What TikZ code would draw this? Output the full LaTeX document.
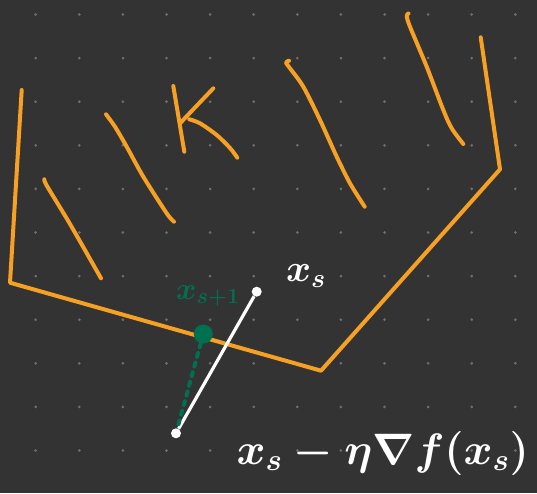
\RequirePackage{fix-cm}
\documentclass[tikz,border=0pt]{standalone}
\definecolor{board}{RGB}{51,51,51}
\definecolor{griddot}{RGB}{110,110,110}
\definecolor{marker}{RGB}{246,160,36}
\definecolor{ink}{RGB}{0,112,80}
\begin{document}
\begin{tikzpicture}[x=1pt,y=-1pt,
  level/.style={draw=marker,line width=4pt,line cap=round,line join=round},
  wdot/.style={circle,fill=white,inner sep=0pt,minimum size=10pt},
  gdot/.style={circle,fill=ink,inner sep=0pt,minimum size=19pt}]
\useasboundingbox (0,0) rectangle (537,493);
\fill[board] (0,0) rectangle (537,493);
\foreach \i in {0,...,11}
  \foreach \j in {0,...,10}
    \fill[griddot] (35.7+43.6*\i,14.5+43.6*\j) circle (1.5pt);
% level set of f
\draw[level] (21.7,90) -- (10,282.7) -- (321,370.7) -- (500,169.3) -- (480.7,37.3);
\draw[level] plot[smooth] coordinates {(44.3,179.3) (47,186) (70,224) (101,278.3)};
\draw[level] plot[smooth] coordinates {(106,114.3) (115,126.7) (126.7,146.7) (143.3,176.7) (166.7,213.3) (174,221.7)};
\draw[level] plot[smooth] coordinates {(289,60.7) (286,62.5) (289,67) (303.3,86.7) (320,120) (336.7,156.7) (350,183.3) (364.7,206.7)};
\draw[level] plot[smooth] coordinates {(408.5,13.5) (406.7,16) (410,26.7) (426.7,66.7) (443.3,110) (451.7,128.3) (463.3,144)};
% K
\draw[level] (173.3,86) -- (184.3,151.7);
\draw[level] (213.3,88.3) -- (180,123.3);
\draw[level] plot[smooth] coordinates {(189.3,119.3) (200,123.3) (216.7,135) (230,148) (237.3,157.7)};
% gradient step
\node[wdot] (xs) at (256.7,291.7) {};
\node[wdot] (xn) at (176,433.3) {};
\node[gdot] (xp) at (203.3,334) {};
\draw[white,line width=3.2pt] (xs) -- (xn);
\draw[ink,line width=4pt,line cap=round,dash pattern=on 4pt off 6pt] (xp) -- (xn);
\node[white,font=\fontsize{38}{42}\selectfont\boldmath] (lxs) at (306,276) {$x_s$};
\node[ink,font=\fontsize{31}{34}\selectfont\boldmath] (lxp) at (208,296) {$x_{s+1}$};
\node[white,inner sep=0pt,anchor=east,font=\fontsize{44}{50}\selectfont\boldmath] (lstep) at (529,453) {$x_s-\eta\nabla f(x_s)$};
\end{tikzpicture}
\end{document}
